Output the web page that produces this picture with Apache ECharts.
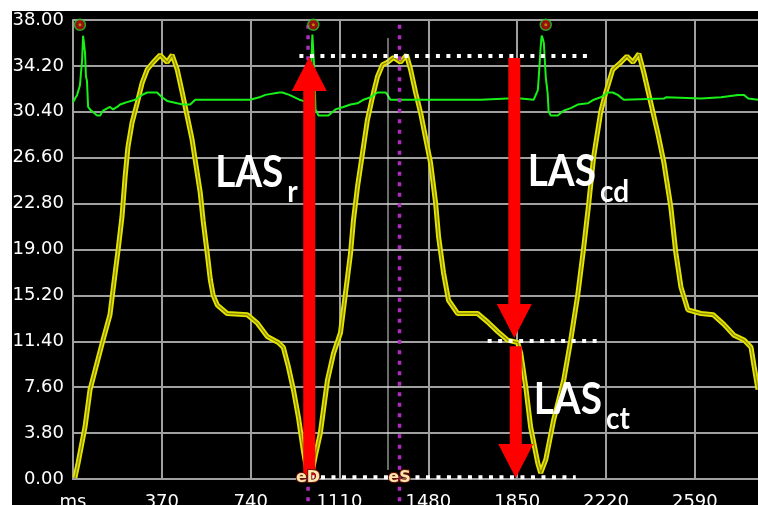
<!DOCTYPE html>
<html><head><meta charset="utf-8">
<script src="https://cdn.jsdelivr.net/npm/echarts@6/dist/echarts.min.js"></script>
<style>html,body{margin:0;padding:0;background:#000}#c{width:758px;height:505px}</style>
</head><body><div id="c"></div>
<script>
// ---- data ----
const xTickStep = 370;          // ms
const yTickStep = 3.8;          // strain %
const yMax = 38;
const xMax = 2853;

// LA strain curve (ms, %)
const strainMs = [8,21,50,71,92,125,154,167,188,204,217,229,246,267,288,309,334,363,392,413,434,455,476,496,509,530,542,559,572,584,601,642,726,768,809,855,876,897,918,939,959,976,985,
  993,1010,1030,1060,1085,1114,1135,1156,1168,1185,1206,1226,1247,1268,1289,1310,1335,1364,1389,1406,1427,1448,1468,1489,1510,1523,1543,1564,1602,1685,1727,1769,1810,1852,1865,1886,1906,1936,1948,
  1969,2002,2044,2073,2102,2126,2148,2168,2198,2219,2248,2282,2307,2332,2357,2378,2407,2436,2461,2490,2511,2532,2561,2616,2666,2711,2753,2795,2824,2837,2853];
const strainVal = [0.1,1.3,4.3,7.4,9.0,11.5,13.6,15.7,19.0,21.7,25.0,27.5,29.5,31.1,32.8,33.9,34.5,35.1,34.5,35.1,33.9,32.0,30.0,28.1,26.4,23.7,21.4,18.7,16.5,15.2,14.4,13.7,13.6,12.9,11.8,11.3,10.9,9.3,7.4,5.1,2.4,0.5,0.1,
  0.3,2.0,3.8,8.2,10.4,12.1,15.4,18.7,21.4,24.2,27.0,29.7,31.6,33.3,34.3,34.5,34.9,34.5,35.1,33.9,32.0,30.3,28.3,26.2,22.9,20.0,17.1,14.8,13.7,13.7,13.0,12.2,11.5,11.3,10.4,7.6,4.3,1.3,0.5,
  1.6,4.9,8.2,11.5,15.2,19.0,22.8,26.6,30.4,32.0,33.9,34.5,35.0,34.5,35.2,33.6,31.1,28.6,26.2,22.5,18.7,15.9,14.0,13.7,13.6,12.8,11.9,11.5,10.9,9.3,7.4];

// ECG trace, drawn in the same axis units
const ecgMs = [0,17,29,38,42,46,50,54,58,63,71,100,113,125,154,167,184,196,225,259,288,309,350,371,392,434,459,488,509,738,776,801,859,872,901,943,976,
  989,993,997,1001,1005,1010,1022,1064,1093,1126,1156,1185,1210,1239,1268,1302,1310,1322,1500,1505,1698,1810,1865,1919,
  1936,1940,1948,1952,1956,1961,1969,1977,1981,1990,2019,2044,2073,2102,2144,2169,2198,2228,2248,2269,2294,2461,2470,2616,2699,2770,2795,2812,2853];
const ecgVal = [31.2,31.8,32.6,34.7,36.7,36.8,35.3,33.3,33.0,30.8,30.6,30.1,30.1,30.5,30.8,30.6,30.8,31.0,31.2,31.4,31.8,32.0,32.0,31.6,31.3,31.1,31.0,31.0,31.4,31.4,31.6,31.8,32.0,32.0,31.8,31.4,31.2,
  31.4,34.7,36.8,36.8,33.9,30.6,30.1,30.1,30.6,30.8,31.0,31.1,31.4,31.6,32.0,32.0,31.8,31.4,31.4,31.5,31.4,31.5,31.5,31.4,
  32.2,33.3,35.8,36.7,36.5,36.1,33.3,31.9,30.4,30.1,30.1,30.5,30.7,31.0,31.1,31.4,31.6,32.0,32.0,31.8,31.4,31.5,31.6,31.5,31.6,31.8,31.8,31.5,31.4];

// R-peak markers
const rPeakMs = [29, 1001, 1969];
const rPeakVal = [37.6, 37.6, 37.6];

// events
const eventNames = ['eD', 'eS'];
const eventMs = [979, 1360];
const eventTop = 37.6, eventBottom = -2.2;
const cursorMs = 1312, cursorTop = 36.5, cursorBottom = 0.75;

// reference dotted lines: [startMs, endMs, value]
const refStart = [943, 1727, 989];
const refEnd = [2165, 2198, 2094];
const refVal = [35.02, 11.42, 0.15];

// arrows
const arrowMs = [984, 1838, 1844];
const arrowFrom = [0.1, 34.85, 11.0];
const arrowTo = [34.94, 11.67, 0.08];

// annotation labels
const labelMain = ['LAS', 'LAS', 'LAS'];
const labelSub = ['r', 'cd', 'ct'];
const labelMs = [592, 1894, 1919];
const labelVal = [25.33, 25.37, 6.54];

// ---- chart ----
const mctx = document.createElement('canvas').getContext('2d');
function tw(t, f) { mctx.font = f; return mctx.measureText(t).width; }

const gridColor = '#a0a0a0';
const chart = echarts.init(document.getElementById('c'), null, {renderer: 'canvas'});

const dotted = (i) => ({
  type: 'line', z: 7, silent: true, symbol: 'none', animation: false,
  data: [[refStart[i], refVal[i]], [refEnd[i], refVal[i]]],
  lineStyle: {color: '#ffffff', width: 4, type: [4, 6.5]}
});

const option = {
  backgroundColor: '#000000',
  animation: false,
  grid: {left: 73, top: 20, right: 0, bottom: 26, containLabel: false, outerBoundsMode: 'none'},
  xAxis: {
    type: 'value', min: 0, max: xMax, interval: xTickStep,
    axisLine: {show: true, lineStyle: {color: gridColor, width: 2}},
    axisTick: {show: false},
    splitLine: {show: true, showMaxLine: false, lineStyle: {color: gridColor, width: 2}},
    axisLabel: {color: '#ffffff', fontFamily: 'DejaVu Sans', fontSize: 18, margin: 14,
      showMaxLabel: false,
      formatter: v => v === 0 ? 'ms' : (v % xTickStep === 0 ? String(v) : '')}
  },
  yAxis: {
    type: 'value', min: 0, max: yMax, interval: yTickStep,
    axisLine: {show: true, lineStyle: {color: gridColor, width: 2}},
    axisTick: {show: false},
    splitLine: {show: true, lineStyle: {color: gridColor, width: 2}},
    axisLabel: {color: '#ffffff', fontFamily: 'DejaVu Sans', fontSize: 18, margin: 9,
      formatter: v => v.toFixed(2)}
  },
  graphic: [
    {type: 'rect', z: 100, shape: {x: 0, y: 0, width: 758, height: 11}, style: {fill: '#ffffff'}},
    {type: 'rect', z: 100, shape: {x: 0, y: 0, width: 12, height: 505}, style: {fill: '#ffffff'}}
  ],
  series: [
    {type: 'line', z: 2, symbol: 'none', silent: true,
      data: strainMs.map((m, i) => [m, strainVal[i]]),
      lineStyle: {color: '#e4e400', width: 5}},
    {type: 'line', z: 3, symbol: 'none', silent: true,
      data: strainMs.map((m, i) => [m, strainVal[i]]),
      lineStyle: {color: '#8a8a00', width: 1.3}},
    {type: 'line', z: 4, symbol: 'none', silent: true,
      data: ecgMs.map((m, i) => [m, ecgVal[i]]),
      lineStyle: {color: '#18f018', width: 2}},
    {type: 'line', z: 4, symbol: 'none', silent: true,
      data: [[cursorMs, cursorTop], [cursorMs, cursorBottom]],
      lineStyle: {color: '#d8d8d8', width: 1}},
    ...eventMs.map(m => ({
      type: 'line', z: 5, symbol: 'none', silent: true, clip: false,
      data: [[m, eventTop], [m, eventBottom]],
      lineStyle: {color: '#b02cc0', width: 3.5, type: [4, 6.5]}
    })),
    {type: 'custom', z: 6, silent: true,
      data: arrowMs.map((m, i) => [m, arrowFrom[i], arrowTo[i]]),
      encode: {x: 0, y: [1, 2]},
      renderItem(params, api) {
        const x = api.value(0);
        const a = api.coord([x, api.value(1)]);
        const b = api.coord([x, api.value(2)]);
        const dir = b[1] < a[1] ? -1 : 1;
        const sw = 6, hw = 17.5, hl = 34;
        const cx = a[0];
        const ny = b[1] - dir * hl;
        return {type: 'polygon', shape: {points: [
          [cx - sw, a[1]], [cx - sw, ny], [cx - hw, ny], [cx, b[1]],
          [cx + hw, ny], [cx + sw, ny], [cx + sw, a[1]]]},
          style: {fill: '#ff0000'}};
      }},
    dotted(0), dotted(1), dotted(2),
    {type: 'custom', z: 8, silent: true,
      data: labelMs.map((m, i) => [m, labelVal[i]]),
      renderItem(params, api) {
        const i = params.dataIndex;
        const p = api.coord([api.value(0), api.value(1)]);
        const sx = 0.9;
        const w = tw(labelMain[i], 'bold 43px Lato') * sx;
        return {type: 'group', children: [
          {type: 'text', x: p[0], y: p[1], scaleX: sx, style: {text: labelMain[i], fill: '#ffffff',
            fontFamily: 'Lato', fontWeight: 'bold', fontSize: 43, align: 'left', verticalAlign: 'middle'}},
          {type: 'text', x: p[0] + w + 4, y: p[1] + 19, scaleX: sx, style: {text: labelSub[i], fill: '#ffffff',
            fontFamily: 'Lato', fontWeight: 'bold', fontSize: 31, align: 'left', verticalAlign: 'middle'}}
        ]};
      }},
    {type: 'custom', z: 9, silent: true,
      data: eventMs.map(m => [m, 0.1]),
      renderItem(params, api) {
        const p = api.coord([api.value(0), api.value(1)]);
        return {type: 'text', x: p[0], y: p[1], style: {text: eventNames[params.dataIndex],
          fill: '#ffe6b0', stroke: '#6a1400', lineWidth: 2,
          fontFamily: 'DejaVu Sans', fontWeight: 'bold', fontSize: 16, align: 'center', verticalAlign: 'middle'}};
      }},
    {type: 'scatter', z: 9, silent: true, symbol: 'circle', symbolSize: 11,
      data: rPeakMs.map((m, i) => [m, rPeakVal[i]]),
      itemStyle: {color: '#b81414', borderColor: '#20d020', borderWidth: 1.5}},
    {type: 'scatter', z: 10, silent: true, symbol: 'circle', symbolSize: 3,
      data: rPeakMs.map((m, i) => [m, rPeakVal[i]]),
      itemStyle: {color: '#c8a000'}}
  ]
};
chart.setOption(option);
</script>
</body></html>
